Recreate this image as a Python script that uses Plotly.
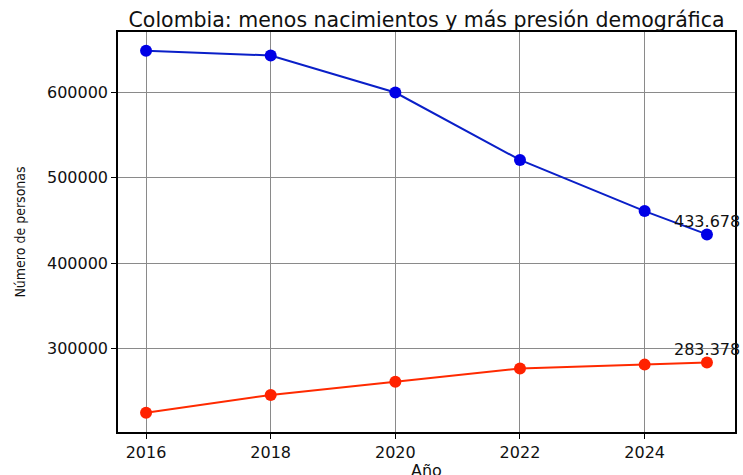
import plotly.graph_objects as go

years = [2016, 2018, 2020, 2022, 2024, 2025]
nacimientos = [649000, 643500, 600000, 521000, 461000, 433678]
defunciones = [224500, 245500, 261000, 276500, 281000, 283378]
labels_last = ["433.678", "283.378"]
x_ticks = [2016, 2018, 2020, 2022, 2024]
y_ticks = [300000, 400000, 500000, 600000]

fig = go.Figure()
fig.add_trace(go.Scatter(x=years, y=nacimientos, mode="lines+markers",
                         line=dict(color="#0a1fc8", width=2),
                         marker=dict(color="#0000e6", size=12), showlegend=False))
fig.add_trace(go.Scatter(x=years, y=defunciones, mode="lines+markers",
                         line=dict(color="#ff2a00", width=2),
                         marker=dict(color="#ff2200", size=12), showlegend=False))

for yv, lab in zip([nacimientos[-1], defunciones[-1]], labels_last):
    fig.add_annotation(x=years[-1], y=yv, text=lab, showarrow=False,
                       yshift=13, xanchor="center",
                       font=dict(family="DejaVu Sans", size=16, color="#111"))

# x-axis title as a paper annotation for exact placement
fig.add_annotation(x=0.5, y=0, xref="paper", yref="paper", text="Año",
                   showarrow=False, xanchor="center", yanchor="top", yshift=-27,
                   font=dict(family="DejaVu Sans", size=16, color="#111"))

axis_common = dict(showline=True, linecolor="black", linewidth=1.5, mirror=True,
                   showgrid=True, gridcolor="#8a8a8a", gridwidth=1,
                   ticks="outside", ticklen=5, tickcolor="black",
                   tickfont=dict(family="DejaVu Sans", size=16, color="#111"),
                   zeroline=False, automargin=False)

fig.update_layout(
    width=743, height=475,
    margin=dict(l=118, r=8, t=32, b=43),
    plot_bgcolor="white", paper_bgcolor="white",
    title=dict(text="Colombia: menos nacimientos y más presión demográfica",
               x=0.5, xref="paper", xanchor="center",
               y=1 - 20 / 475, yanchor="middle",
               font=dict(family="DejaVu Sans", size=20.5, color="#111")),
    xaxis=dict(axis_common, range=[2015.55, 2025.45], tickvals=x_ticks),
    yaxis=dict(axis_common, range=[202000, 671000], tickvals=y_ticks,
               tickformat="d",
               title=dict(text="Número de personas", standoff=18,
                          font=dict(family="DejaVu Sans Condensed", size=14, color="#111"))),
)

fig.write_html("out.html", config={"displayModeBar": False},
               post_script="document.body.style.margin='0';document.body.style.overflow='hidden';")
